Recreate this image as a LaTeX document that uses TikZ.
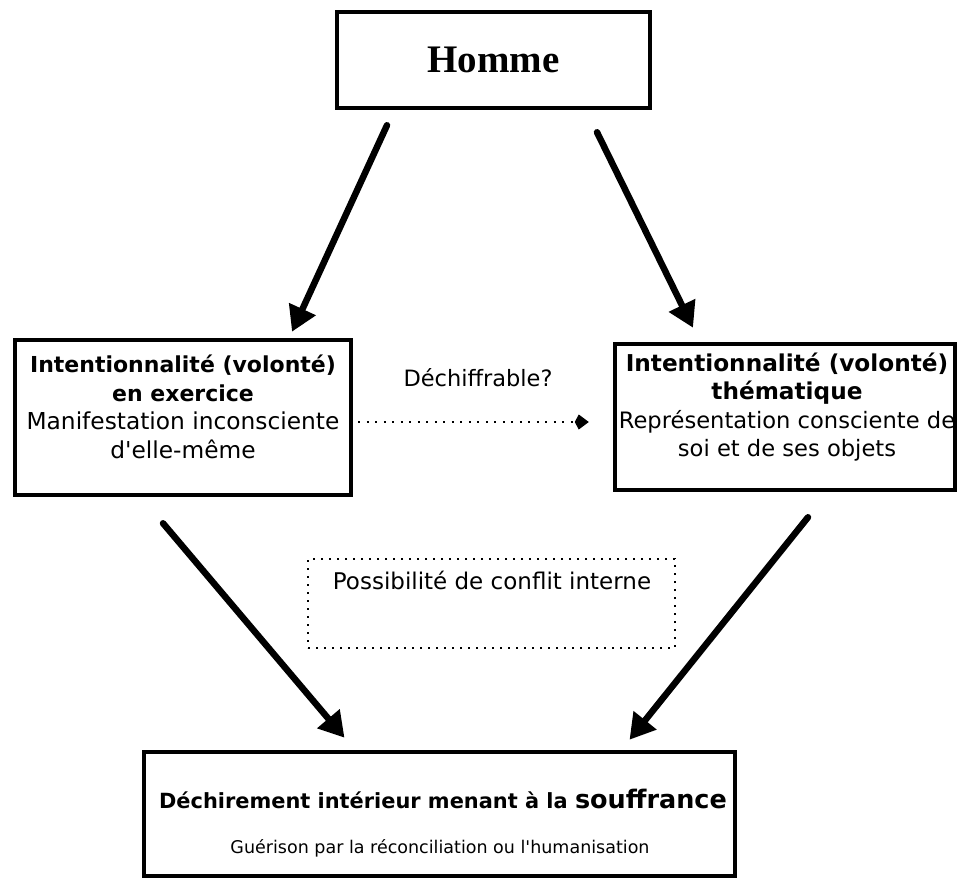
\documentclass[tikz,border=0pt]{standalone}
\usepackage{fontspec}
\setmainfont{DejaVu Sans}[Ligatures=TeXOff]
\newfontfamily\titlefont{Liberation Serif}
\usetikzlibrary{arrows.meta,calc}

% bold heading lines inside the boxes, at a given size
\newcommand\headbf[2][22]{{\bfseries\fontsize{#1}{28.5}\selectfont #2}}

\begin{document}
\begin{tikzpicture}[x=1pt,y=-1pt,
  box/.style={draw, line width=4.5pt, inner sep=0pt},
  dotbox/.style={draw, line width=2pt, dash pattern=on 2pt off 6pt, inner sep=0pt},
  txt/.style={inner sep=0pt, align=center},
  boxtxt/.style={inner sep=0pt, align=center, font=\fontsize{23.3}{28.5}\selectfont},
  bigarrow/.style={line width=6.5pt, line cap=round,
    -{Triangle[length=25pt,width=28pt]}},
  dotarrow/.style={line width=2pt, dash pattern=on 2pt off 6.5pt,
    -{Kite[length=14pt,width=15pt,inset=4pt]}}]

\useasboundingbox (0,0) rectangle (958,880);

% the top box
\node[box, minimum width=313pt, minimum height=96pt] (homme) at (493.5,60)
  {\titlefont\bfseries\fontsize{39}{41}\selectfont Homme};

% the two intentionality boxes
\node[box, minimum width=336pt, minimum height=155pt] (lbox) at (183,417.5) {};
\node[boxtxt] (ltext) at (183,407)
  {\headbf{Intentionnalité (volonté)}\\ \headbf{en exercice}\\
   Manifestation inconsciente\\ d'elle-même};

\node[box, minimum width=340pt, minimum height=146pt] (rbox) at (785,417) {};
\node[boxtxt, font=\fontsize{22.6}{28.5}\selectfont] (rtext) at (787,407)
  {\headbf[23.2]{Intentionnalité (volonté)}\\ \headbf[23.2]{thématique}\\
   Représentation consciente de\\ soi et de ses objets};

% dotted link between them
\node[txt, font=\fontsize{22.5}{26}\selectfont] (dechif) at (478,378) {Déchiffrable?};
\draw[dotarrow] ($(lbox.east)+(5,4.5)$) -- ($(rbox.west)+(-24,5)$);

% the dotted middle box
\node[dotbox, minimum width=367pt, minimum height=89pt] (conflit) at (491.5,603.5) {};
\node[txt, font=\fontsize{23}{26}\selectfont] (conflittext) at (492,580)
  {Possibilité de conflit interne};

% the bottom box
\node[box, minimum width=591pt, minimum height=124pt] (bbox) at (439.5,814) {};
\node[txt] (btext1) at (443,799)
  {\bfseries\fontsize{20.9}{24}\selectfont Déchirement intérieur menant à la
   {\fontsize{25.5}{28}\selectfont souffrance}};
\node[txt, font=\fontsize{17.5}{21}\selectfont] (btext2) at (440,848)
  {Guérison par la réconciliation ou l'humanisation};

% heavy arrows
\draw[bigarrow] ($(homme.south)+(-106.5,15)$) -- ($(lbox.north)+(109,-6)$);
\draw[bigarrow] ($(homme.south)+(103.5,22)$) -- ($(rbox.north)+(-92,-14)$);
\draw[bigarrow] ($(lbox.south)+(-20,26)$) -- ($(bbox.north)+(-95,-12)$);
\draw[bigarrow] ($(rbox.south)+(23,25)$) -- ($(bbox.north)+(190,-10)$);

\end{tikzpicture}
\end{document}
